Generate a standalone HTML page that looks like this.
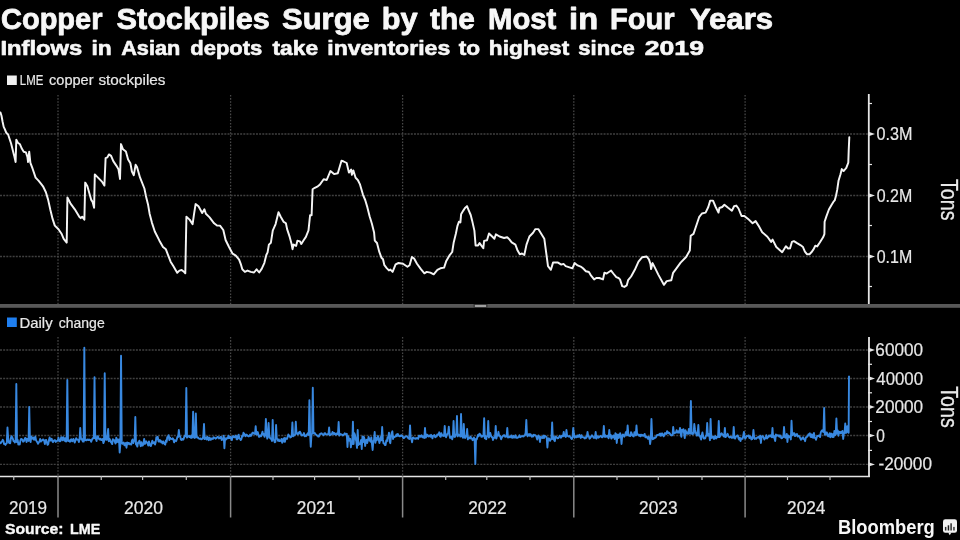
<!DOCTYPE html>
<html><head><meta charset="utf-8"><style>
html,body{margin:0;padding:0;background:#000;}
body{width:960px;height:540px;overflow:hidden;position:relative;font-family:"Liberation Sans",sans-serif;}
svg{position:absolute;left:0;top:0;will-change:transform;}
text{font-family:"Liberation Sans",sans-serif;}
</style></head><body>
<svg width="960" height="540" viewBox="0 0 960 540">
<rect width="960" height="540" fill="#000"/>
<line x1="0" y1="134" x2="868" y2="134" stroke="#404040" stroke-width="1.3" stroke-dasharray="2 1.16"/>
<line x1="0" y1="195.5" x2="868" y2="195.5" stroke="#404040" stroke-width="1.3" stroke-dasharray="2 1.16"/>
<line x1="0" y1="256.5" x2="868" y2="256.5" stroke="#404040" stroke-width="1.3" stroke-dasharray="2 1.16"/>
<line x1="58" y1="95" x2="58" y2="304" stroke="#484848" stroke-width="1.25" stroke-dasharray="1.55 1.55"/>
<line x1="230.6" y1="95" x2="230.6" y2="304" stroke="#484848" stroke-width="1.25" stroke-dasharray="1.55 1.55"/>
<line x1="402.6" y1="95" x2="402.6" y2="304" stroke="#484848" stroke-width="1.25" stroke-dasharray="1.55 1.55"/>
<line x1="573.8" y1="95" x2="573.8" y2="304" stroke="#484848" stroke-width="1.25" stroke-dasharray="1.55 1.55"/>
<line x1="745.1" y1="95" x2="745.1" y2="304" stroke="#484848" stroke-width="1.25" stroke-dasharray="1.55 1.55"/>
<line x1="0" y1="350" x2="868" y2="350" stroke="#404040" stroke-width="1.3" stroke-dasharray="2 1.16"/>
<line x1="0" y1="378.5" x2="868" y2="378.5" stroke="#404040" stroke-width="1.3" stroke-dasharray="2 1.16"/>
<line x1="0" y1="407" x2="868" y2="407" stroke="#404040" stroke-width="1.3" stroke-dasharray="2 1.16"/>
<line x1="0" y1="435.5" x2="868" y2="435.5" stroke="#404040" stroke-width="1.3" stroke-dasharray="2 1.16"/>
<line x1="0" y1="464.4" x2="868" y2="464.4" stroke="#404040" stroke-width="1.3" stroke-dasharray="2 1.16"/>
<line x1="58" y1="337" x2="58" y2="476" stroke="#484848" stroke-width="1.25" stroke-dasharray="1.55 1.55"/>
<line x1="230.6" y1="337" x2="230.6" y2="476" stroke="#484848" stroke-width="1.25" stroke-dasharray="1.55 1.55"/>
<line x1="402.6" y1="337" x2="402.6" y2="476" stroke="#484848" stroke-width="1.25" stroke-dasharray="1.55 1.55"/>
<line x1="573.8" y1="337" x2="573.8" y2="476" stroke="#484848" stroke-width="1.25" stroke-dasharray="1.55 1.55"/>
<line x1="745.1" y1="337" x2="745.1" y2="476" stroke="#484848" stroke-width="1.25" stroke-dasharray="1.55 1.55"/>
<rect x="0" y="304" width="960" height="3.8" fill="#585858"/>
<rect x="473.6" y="304" width="13.8" height="3.8" fill="#303030"/>
<rect x="474.8" y="304.9" width="11.4" height="2.1" fill="#a0a0a0"/>
<line x1="868.8" y1="94" x2="868.8" y2="304" stroke="#e6e6e6" stroke-width="1.8"/>
<path d="M868.5 131.8 L875 134 L868.5 136.2 Z" fill="#e6e6e6"/>
<path d="M868.5 193.3 L875 195.5 L868.5 197.7 Z" fill="#e6e6e6"/>
<path d="M868.5 254.3 L875 256.5 L868.5 258.7 Z" fill="#e6e6e6"/>
<line x1="868" y1="103.5" x2="872" y2="103.5" stroke="#e6e6e6" stroke-width="1.2"/>
<line x1="868" y1="164.5" x2="872" y2="164.5" stroke="#e6e6e6" stroke-width="1.2"/>
<line x1="868" y1="225.5" x2="872" y2="225.5" stroke="#e6e6e6" stroke-width="1.2"/>
<line x1="868" y1="286.5" x2="872" y2="286.5" stroke="#e6e6e6" stroke-width="1.2"/>
<line x1="869" y1="337" x2="869" y2="477" stroke="#e6e6e6" stroke-width="1.8"/>
<line x1="0" y1="476.5" x2="869.9" y2="476.5" stroke="#e6e6e6" stroke-width="1.6"/>
<path d="M868.5 347.8 L875 350 L868.5 352.2 Z" fill="#e6e6e6"/>
<path d="M868.5 376.3 L875 378.5 L868.5 380.7 Z" fill="#e6e6e6"/>
<path d="M868.5 404.8 L875 407 L868.5 409.2 Z" fill="#e6e6e6"/>
<path d="M868.5 433.40000000000003 L875 435.6 L868.5 437.8 Z" fill="#e6e6e6"/>
<path d="M868.5 462.2 L875 464.4 L868.5 466.59999999999997 Z" fill="#e6e6e6"/>
<line x1="868" y1="364.3" x2="872" y2="364.3" stroke="#e6e6e6" stroke-width="1.2"/>
<line x1="868" y1="392.8" x2="872" y2="392.8" stroke="#e6e6e6" stroke-width="1.2"/>
<line x1="868" y1="421.5" x2="872" y2="421.5" stroke="#e6e6e6" stroke-width="1.2"/>
<line x1="868" y1="450.4" x2="872" y2="450.4" stroke="#e6e6e6" stroke-width="1.2"/>
<line x1="58" y1="476" x2="58" y2="517.5" stroke="#8a8a8a" stroke-width="1.5"/>
<line x1="230.6" y1="476" x2="230.6" y2="517.5" stroke="#8a8a8a" stroke-width="1.5"/>
<line x1="402.6" y1="476" x2="402.6" y2="517.5" stroke="#8a8a8a" stroke-width="1.5"/>
<line x1="573.8" y1="476" x2="573.8" y2="517.5" stroke="#8a8a8a" stroke-width="1.5"/>
<line x1="745.1" y1="476" x2="745.1" y2="517.5" stroke="#8a8a8a" stroke-width="1.5"/>
<line x1="13.75" y1="476" x2="13.75" y2="480" stroke="#bdbdbd" stroke-width="1.2"/>
<line x1="101.25" y1="476" x2="101.25" y2="480" stroke="#bdbdbd" stroke-width="1.2"/>
<line x1="142.6" y1="476" x2="142.6" y2="480" stroke="#bdbdbd" stroke-width="1.2"/>
<line x1="186.3" y1="476" x2="186.3" y2="480" stroke="#bdbdbd" stroke-width="1.2"/>
<line x1="273" y1="476" x2="273" y2="480" stroke="#bdbdbd" stroke-width="1.2"/>
<line x1="314.6" y1="476" x2="314.6" y2="480" stroke="#bdbdbd" stroke-width="1.2"/>
<line x1="359.2" y1="476" x2="359.2" y2="480" stroke="#bdbdbd" stroke-width="1.2"/>
<line x1="445.7" y1="476" x2="445.7" y2="480" stroke="#bdbdbd" stroke-width="1.2"/>
<line x1="486.8" y1="476" x2="486.8" y2="480" stroke="#bdbdbd" stroke-width="1.2"/>
<line x1="530" y1="476" x2="530" y2="480" stroke="#bdbdbd" stroke-width="1.2"/>
<line x1="617" y1="476" x2="617" y2="480" stroke="#bdbdbd" stroke-width="1.2"/>
<line x1="658.3" y1="476" x2="658.3" y2="480" stroke="#bdbdbd" stroke-width="1.2"/>
<line x1="702" y1="476" x2="702" y2="480" stroke="#bdbdbd" stroke-width="1.2"/>
<line x1="787.5" y1="476" x2="787.5" y2="480" stroke="#bdbdbd" stroke-width="1.2"/>
<line x1="830" y1="476" x2="830" y2="480" stroke="#bdbdbd" stroke-width="1.2"/>
<polyline points="0,441.74 0.68,443.18 1.36,442.04 2.04,441.4 2.72,439.77 3.4,440.77 4.08,444.08 4.76,443.67 5.44,444.9 6.12,443.5 6.8,443.32 7.48,427.5 8.16,438.21 8.84,442.46 9.52,443.12 10.2,443.31 10.88,438.16 11.56,436.17 12.24,437.47 12.92,438.9 13.6,441.24 14.28,441.18 14.96,442.51 15.64,440.1 16.32,384 17,442.16 17.68,439.83 18.36,444.59 19.04,443.46 19.72,444.5 20.4,440.61 21.08,438.95 21.76,439.24 22.44,439.83 23.12,441.65 23.8,441.38 24.48,439.7 25.16,437.96 25.84,438.28 26.52,442.11 27.2,439.03 27.88,440.17 28.56,440.9 29.24,407 29.92,438.94 30.6,442.13 31.28,436.39 31.96,437.81 32.64,438.7 33.32,437.55 34,439.72 34.68,439.32 35.36,436.58 36.04,440.25 36.72,441.34 37.4,442.36 38.08,443.73 38.76,442.38 39.44,441.62 40.12,439.03 40.8,441.61 41.48,440.56 42.16,440.62 42.84,439.48 43.52,439.75 44.2,440.71 44.88,444.02 45.56,440.22 46.24,439.98 46.92,442.57 47.6,444.87 48.28,444.16 48.96,440.07 49.64,437.51 50.32,440.6 51,439.86 51.68,438.82 52.36,441.3 53.04,442.13 53.72,440.82 54.4,440.27 55.08,440.17 55.76,441.97 56.44,441.19 57.12,440.78 57.8,440.7 58.48,437.6 59.16,440.7 59.84,441.32 60.52,440.93 61.2,437.16 61.88,437.81 62.56,440.22 63.24,437.2 63.92,438.54 64.6,440.78 65.28,438.18 65.96,441.56 66.64,441.21 67.32,380 68,440.4 68.68,441 69.36,440.45 70.04,441.78 70.72,439.62 71.4,439.24 72.08,441.26 72.76,440.5 73.44,438.92 74.12,441.06 74.8,442.58 75.48,440.34 76.16,438.21 76.84,439.3 77.52,439.68 78.2,439.61 78.88,442.09 79.56,439.42 80.24,428 80.92,438.88 81.6,438.5 82.28,440.35 82.96,441.62 83.64,441.62 84.32,347.7 85,440.21 85.68,439.95 86.36,440.38 87.04,439.44 87.72,439.67 88.4,440.08 89.08,439.4 89.76,440.1 90.44,440.02 91.12,441.78 91.8,440.17 92.48,438.6 93.16,438.07 93.84,438.27 94.52,377.3 95.2,438.29 95.88,438.9 96.56,441.05 97.24,436.2 97.92,436.38 98.6,438.34 99.28,439.32 99.96,439.53 100.64,438.72 101.32,440.07 102,440.08 102.68,438.94 103.36,443.12 104.04,441.5 104.72,373.3 105.4,439.66 106.08,439.55 106.76,439.84 107.44,435.52 108.12,429 108.8,441.26 109.48,438.81 110.16,439.9 110.84,442.08 111.52,442.75 112.2,444.12 112.88,439.22 113.56,439.87 114.24,440.18 114.92,442 115.6,443.5 116.28,437.64 116.96,442.09 117.64,439.39 118.32,442.14 119,439.45 119.68,452.5 120.36,443.91 121.04,355.7 121.72,442.72 122.4,443.86 123.08,443.17 123.76,442.56 124.44,445.22 125.12,445.35 125.8,443.06 126.48,447.72 127.16,442.42 127.84,444.31 128.52,442.87 129.2,443.12 129.88,444.31 130.56,443.87 131.24,444.53 131.92,440.71 132.6,439.41 133.28,443.04 133.96,441.32 134.64,440.61 135.32,417 136,444.36 136.68,445.02 137.36,446.63 138.04,442.46 138.72,442.8 139.4,440.65 140.08,443.58 140.76,446.18 141.44,442.22 142.12,445.57 142.8,445.6 143.48,443.3 144.16,438.96 144.84,443.99 145.52,442.79 146.2,441.34 146.88,442.76 147.56,443.24 148.24,445.49 148.92,441.34 149.6,444.05 150.28,445.64 150.96,446.08 151.64,443 152.32,440.77 153,443.38 153.68,442.48 154.36,442.14 155.04,444.5 155.72,441.99 156.4,437.1 157.08,439.06 157.76,436.84 158.44,441.23 159.12,441.73 159.8,440.05 160.48,440.58 161.16,442.34 161.84,441.43 162.52,443.45 163.2,441.44 163.88,442.77 164.56,444.03 165.24,444.62 165.92,440.47 166.6,441.87 167.28,437.16 167.96,436.95 168.64,435.21 169.32,440.12 170,437.56 170.68,438.84 171.36,438.91 172.04,439.17 172.72,438.19 173.4,439.27 174.08,442.36 174.76,440.27 175.44,440.34 176.12,441.13 176.8,439.25 177.48,436.69 178.16,436.97 178.84,430 179.52,436.08 180.2,436.56 180.88,439.42 181.56,440 182.24,438.91 182.92,439.77 183.6,439.05 184.28,436.76 184.96,435.44 185.64,436.36 186.32,388 187,437.64 187.68,436.78 188.36,436.67 189.04,435.69 189.72,437.13 190.4,436.34 191.08,437.9 191.76,435.32 192.44,437.46 193.12,411.8 193.8,435.68 194.48,437.91 195.16,437.66 195.84,413.5 196.52,436.25 197.2,437.59 197.88,437.31 198.56,438.41 199.24,438.75 199.92,438.78 200.6,438.46 201.28,439.33 201.96,438.98 202.64,438.65 203.32,436.07 204,424 204.68,439.17 205.36,437.99 206.04,437.41 206.72,439.55 207.4,436.7 208.08,437.87 208.76,440.19 209.44,437.73 210.12,438.45 210.8,439.87 211.48,438.41 212.16,438.56 212.84,438.95 213.52,437.32 214.2,437.54 214.88,438 215.56,438.67 216.24,438.07 216.92,437.7 217.6,436.78 218.28,437.09 218.96,438.42 219.64,438.12 220.32,437.08 221,436.73 221.68,440.02 222.36,439.69 223.04,439.08 223.72,435.72 224.4,448.3 225.08,438.17 225.76,439.58 226.44,438.77 227.12,437.93 227.8,438.25 228.48,435.6 229.16,437.96 229.84,437.98 230.52,436.76 231.2,438.71 231.88,439.99 232.56,436.49 233.24,436.11 233.92,437.16 234.6,437.37 235.28,436.65 235.96,435.59 236.64,439.37 237.32,439.24 238,436.06 238.68,434.66 239.36,438.51 240.04,438.83 240.72,440.09 241.4,438.96 242.08,435.92 242.76,436.49 243.44,432.8 244.12,433.6 244.8,434.9 245.48,436.23 246.16,434.54 246.84,434.86 247.52,435.88 248.2,436.02 248.88,436.44 249.56,435.76 250.24,434.48 250.92,435.95 251.6,435.04 252.28,433.01 252.96,432.56 253.64,433.49 254.32,433.52 255,433.96 255.68,426.3 256.36,434.51 257.04,434.2 257.72,432.05 258.4,434.63 259.08,436.86 259.76,436.56 260.44,435.39 261.12,436.3 261.8,434.07 262.48,431.68 263.16,434.62 263.84,433.92 264.52,436.89 265.2,434.68 265.88,419 266.56,433.02 267.24,438.54 267.92,437.02 268.6,423 269.28,435.27 269.96,437.85 270.64,438.82 271.32,438.7 272,441.08 272.68,420 273.36,439.33 274.04,440.07 274.72,442.28 275.4,441.97 276.08,425 276.76,438.58 277.44,439.09 278.12,440.8 278.8,439.38 279.48,441.05 280.16,440.67 280.84,440.91 281.52,438.92 282.2,442.78 282.88,441.74 283.56,438.74 284.24,438.05 284.92,441.92 285.6,438.11 286.28,438.69 286.96,438.92 287.64,437.18 288.32,434.41 289,435.6 289.68,436.15 290.36,437.49 291.04,437.22 291.72,435.67 292.4,422.5 293.08,436.28 293.76,435.64 294.44,435.18 295.12,434.55 295.8,421.7 296.48,433.55 297.16,433.45 297.84,434.34 298.52,432.58 299.2,433.44 299.88,431.63 300.56,432.82 301.24,434.85 301.92,435.53 302.6,434.98 303.28,434.59 303.96,433.08 304.64,436.28 305.32,435.87 306,436.33 306.68,434.41 307.36,434.48 308.04,432.92 308.72,434.9 309.4,400.2 310.08,433.28 310.76,446.7 311.44,435.21 312.12,433.23 312.8,387.7 313.48,432.95 314.16,433.54 314.84,432.99 315.52,434.2 316.2,434.83 316.88,435.43 317.56,435.7 318.24,436.58 318.92,436.56 319.6,434.14 320.28,434.07 320.96,433.51 321.64,433.3 322.32,434.2 323,434.59 323.68,435.21 324.36,433.39 325.04,433.1 325.72,434.18 326.4,434.39 327.08,434.35 327.76,434.58 328.44,433.98 329.12,427.5 329.8,435.28 330.48,434.88 331.16,434.17 331.84,434.41 332.52,432.01 333.2,432.87 333.88,434.16 334.56,433.11 335.24,434.4 335.92,434.8 336.6,433.46 337.28,434.09 337.96,434.24 338.64,422 339.32,435.49 340,435 340.68,434.04 341.36,434.39 342.04,434.59 342.72,435.44 343.4,435.31 344.08,434.27 344.76,433.3 345.44,434.15 346.12,434.31 346.8,433.85 347.48,447 348.16,436.17 348.84,438.23 349.52,440.82 350.2,438.95 350.88,447.37 351.56,441.29 352.24,443.97 352.92,421.7 353.6,444.06 354.28,433.15 354.96,434.8 355.64,438.7 356.32,441.23 357,447.86 357.68,430 358.36,445.05 359.04,443.89 359.72,444.05 360.4,442.64 361.08,439.93 361.76,449 362.44,436.36 363.12,442.04 363.8,436.84 364.48,439.13 365.16,445.97 365.84,440.74 366.52,439.68 367.2,442.97 367.88,440.44 368.56,436.86 369.24,439.01 369.92,440.76 370.6,441.76 371.28,437.38 371.96,443.82 372.64,450 373.32,441.22 374,440.4 374.68,432 375.36,442.78 376.04,437.84 376.72,440.39 377.4,437.68 378.08,436.05 378.76,439.83 379.44,443.01 380.12,439.97 380.8,436.84 381.48,440.28 382.16,427 382.84,439.4 383.52,443.25 384.2,443.38 384.88,445 385.56,445.1 386.24,440.55 386.92,441.29 387.6,437.24 388.28,437.6 388.96,432.64 389.64,441.38 390.32,443.16 391,436.14 391.68,432.82 392.36,431.32 393.04,438.95 393.72,436.72 394.4,436.96 395.08,436.33 395.76,436.47 396.44,434.5 397.12,435.93 397.8,433.93 398.48,435.36 399.16,436.15 399.84,436.35 400.52,435.87 401.2,435.18 401.88,436.1 402.56,435.88 403.24,438.04 403.92,438.1 404.6,437.29 405.28,436.73 405.96,436.38 406.64,436.1 407.32,436.75 408,437.82 408.68,438.57 409.36,439.02 410.04,425.4 410.72,438.63 411.4,438.72 412.08,442.22 412.76,437.6 413.44,437.55 414.12,438.31 414.8,438.49 415.48,438.8 416.16,438.03 416.84,438.45 417.52,438.13 418.2,438.87 418.88,435.64 419.56,435.72 420.24,436.82 420.92,435.79 421.6,435.34 422.28,437.31 422.96,436.24 423.64,437.5 424.32,438.02 425,428 425.68,437.59 426.36,436.7 427.04,434.54 427.72,435.59 428.4,436.56 429.08,435.47 429.76,435.61 430.44,436.77 431.12,434.83 431.8,436.22 432.48,438.37 433.16,435.63 433.84,435.59 434.52,435.08 435.2,437.27 435.88,436.21 436.56,436.61 437.24,434.42 437.92,434.7 438.6,434.83 439.28,432.32 439.96,436.18 440.64,436.77 441.32,433.13 442,435.53 442.68,435.12 443.36,435.85 444.04,436.01 444.72,426 445.4,434.36 446.08,437.22 446.76,435.23 447.44,433.91 448.12,432.98 448.8,426.7 449.48,435.16 450.16,437.97 450.84,437.13 451.52,436.6 452.2,439.35 452.88,436.31 453.56,421 454.24,436.4 454.92,436.93 455.6,434.86 456.28,433.93 456.96,416 457.64,436.38 458.32,434.35 459,435.29 459.68,435.14 460.36,436.59 461.04,414 461.72,436.24 462.4,435.87 463.08,437.82 463.76,424 464.44,436.91 465.12,437.97 465.8,436.02 466.48,436.59 467.16,429 467.84,439.37 468.52,437.52 469.2,437.67 469.88,438.43 470.56,436.54 471.24,438.41 471.92,438.36 472.6,440.2 473.28,438.96 473.96,437.6 474.64,440.39 475.32,464 476,438.99 476.68,439.46 477.36,437.04 478.04,434.9 478.72,436.2 479.4,433.7 480.08,434.13 480.76,435.24 481.44,436.87 482.12,436.01 482.8,436.39 483.48,435.18 484.16,418.3 484.84,438.32 485.52,435.85 486.2,439.19 486.88,436.25 487.56,436.13 488.24,421 488.92,437.52 489.6,434.94 490.28,432.93 490.96,435.8 491.64,437.06 492.32,437.27 493,439.94 493.68,437.75 494.36,437.06 495.04,437.68 495.72,426 496.4,438.66 497.08,435.56 497.76,435.57 498.44,431.82 499.12,435.74 499.8,435.67 500.48,437.22 501.16,439.23 501.84,437.36 502.52,436.43 503.2,435.83 503.88,435.24 504.56,435.3 505.24,436.79 505.92,436.62 506.6,436.61 507.28,428 507.96,437.48 508.64,437.41 509.32,436.7 510,437.34 510.68,436.68 511.36,435.39 512.04,437.75 512.72,437.51 513.4,435.94 514.08,437.54 514.76,437.34 515.44,435.31 516.12,437.87 516.8,437.47 517.48,437.89 518.16,437.35 518.84,436.83 519.52,435.29 520.2,437.17 520.88,436.72 521.56,436.11 522.24,436.41 522.92,436.11 523.6,436.5 524.28,435.39 524.96,435.23 525.64,432.7 526.32,420 527,435 527.68,436.16 528.36,434.45 529.04,434 529.72,435.77 530.4,434.18 531.08,435.1 531.76,436.73 532.44,435.39 533.12,436.53 533.8,434.61 534.48,435.22 535.16,435.2 535.84,435.56 536.52,437.14 537.2,439.48 537.88,436.4 538.56,435.56 539.24,436.82 539.92,442 540.6,436.97 541.28,437.8 541.96,437.04 542.64,438.02 543.32,435.58 544,438.08 544.68,435.83 545.36,436.35 546.04,436.85 546.72,437.37 547.4,447.5 548.08,439.21 548.76,438.25 549.44,439.18 550.12,440.84 550.8,439.16 551.48,438.99 552.16,422.5 552.84,438.97 553.52,436.63 554.2,440.35 554.88,441.15 555.56,436.44 556.24,437.01 556.92,437.63 557.6,438.34 558.28,438.18 558.96,437.07 559.64,435.85 560.32,436.55 561,437.73 561.68,436.05 562.36,435.52 563.04,436.33 563.72,432 564.4,435.8 565.08,436.01 565.76,436.98 566.44,430 567.12,435.67 567.8,436 568.48,436.47 569.16,436 569.84,436.53 570.52,437.48 571.2,438.28 571.88,439.1 572.56,436.79 573.24,428 573.92,434.01 574.6,437.84 575.28,436.39 575.96,436.62 576.64,437.3 577.32,435.51 578,436.85 578.68,436.79 579.36,434.8 580.04,436.42 580.72,437.98 581.4,435.15 582.08,437.12 582.76,437.14 583.44,437.45 584.12,437.52 584.8,438.52 585.48,437.15 586.16,437.91 586.84,436.72 587.52,432 588.2,436.15 588.88,436.45 589.56,438.68 590.24,437.98 590.92,437.03 591.6,435.54 592.28,435.43 592.96,436.55 593.64,437.82 594.32,437.66 595,437.73 595.68,432 596.36,438.51 597.04,436.93 597.72,436.18 598.4,437.66 599.08,437.18 599.76,436.59 600.44,435.99 601.12,436.12 601.8,437.22 602.48,437.24 603.16,435.26 603.84,426 604.52,436.69 605.2,435.2 605.88,436.9 606.56,436.12 607.24,435.73 607.92,437.03 608.6,438.13 609.28,430 609.96,436.51 610.64,434.97 611.32,438.63 612,436.14 612.68,437.5 613.36,435.46 614.04,436.68 614.72,439 615.4,433.28 616.08,434.11 616.76,443 617.44,435.35 618.12,434.4 618.8,437.98 619.48,436.3 620.16,433.23 620.84,435.66 621.52,444 622.2,435.88 622.88,434.44 623.56,434.94 624.24,436.7 624.92,435.63 625.6,433.06 626.28,431.75 626.96,435.43 627.64,425.5 628.32,434.09 629,435.76 629.68,435.82 630.36,436.05 631.04,432.15 631.72,433.47 632.4,435.55 633.08,436.04 633.76,436.39 634.44,432.14 635.12,434.09 635.8,435.19 636.48,425.5 637.16,434.77 637.84,434.38 638.52,434.7 639.2,435.86 639.88,434.63 640.56,436.34 641.24,434.71 641.92,435.6 642.6,435.05 643.28,435.88 643.96,435.22 644.64,433.93 645.32,437.17 646,437.42 646.68,436.49 647.36,437.34 648.04,438.88 648.72,436.84 649.4,437.47 650.08,444 650.76,439.36 651.44,419 652.12,435.62 652.8,439.21 653.48,438.96 654.16,438.24 654.84,437.4 655.52,437.72 656.2,436.66 656.88,435.24 657.56,434.99 658.24,434.94 658.92,434.73 659.6,433.69 660.28,435.78 660.96,433.5 661.64,435.41 662.32,433.46 663,434.6 663.68,436.33 664.36,435.05 665.04,433.08 665.72,433.59 666.4,433.9 667.08,431.17 667.76,431.87 668.44,433.27 669.12,432.77 669.8,433.43 670.48,434.67 671.16,435.15 671.84,435.54 672.52,435.16 673.2,427 673.88,433.46 674.56,432.97 675.24,432.71 675.92,432.82 676.6,430.23 677.28,431.65 677.96,432.65 678.64,431.35 679.32,432.51 680,428 680.68,433.11 681.36,436.82 682.04,429.74 682.72,431.53 683.4,429.19 684.08,433.47 684.76,438.07 685.44,430.11 686.12,432.18 686.8,433.64 687.48,432.58 688.16,433.81 688.84,428.86 689.52,433.07 690.2,433.66 690.88,401 691.56,432.14 692.24,434.17 692.92,432.85 693.6,433.82 694.28,424 694.96,429.49 695.64,432.48 696.32,434.05 697,435.68 697.68,433.43 698.36,425 699.04,435.78 699.72,435.58 700.4,437.5 701.08,439.52 701.76,435.4 702.44,432.38 703.12,436.08 703.8,438.55 704.48,438.5 705.16,438.39 705.84,436.16 706.52,435.34 707.2,423 707.88,435.78 708.56,433.85 709.24,434.56 709.92,440.18 710.6,419 711.28,437.96 711.96,436.84 712.64,437.72 713.32,436.57 714,439.02 714.68,437.86 715.36,436.04 716.04,438.59 716.72,436.89 717.4,437.3 718.08,437.08 718.76,421 719.44,437.14 720.12,436.05 720.8,434.29 721.48,433.23 722.16,434.01 722.84,434.9 723.52,436.11 724.2,436.62 724.88,428 725.56,437.16 726.24,435.96 726.92,435.64 727.6,433.81 728.28,435.55 728.96,436.95 729.64,437.5 730.32,436.9 731,436.62 731.68,437.88 732.36,437.2 733.04,437.84 733.72,427 734.4,437.44 735.08,438.61 735.76,436.74 736.44,436.34 737.12,435.65 737.8,435.43 738.48,438.22 739.16,439.44 739.84,437.75 740.52,441 741.2,438.59 741.88,438.41 742.56,438.83 743.24,435.97 743.92,432 744.6,436.98 745.28,438.61 745.96,437.56 746.64,436.02 747.32,436.09 748,435.75 748.68,435.39 749.36,438.13 750.04,436.5 750.72,436.72 751.4,439.41 752.08,439.16 752.76,438.03 753.44,430 754.12,437.19 754.8,438.91 755.48,438.3 756.16,438.86 756.84,437.64 757.52,437.72 758.2,436.88 758.88,437.35 759.56,438.58 760.24,435.68 760.92,443 761.6,436.93 762.28,436.15 762.96,436.2 763.64,437.55 764.32,439.5 765,438.51 765.68,437.8 766.36,435.26 767.04,438.61 767.72,437.53 768.4,437.01 769.08,435.51 769.76,436.28 770.44,435.28 771.12,436.36 771.8,437.21 772.48,428 773.16,437.2 773.84,435.9 774.52,438.23 775.2,441 775.88,434.48 776.56,435.76 777.24,435.51 777.92,435.12 778.6,435.78 779.28,436.8 779.96,435.36 780.64,436.13 781.32,438.3 782,438.16 782.68,437.09 783.36,437.06 784.04,427 784.72,436.72 785.4,437.67 786.08,436.99 786.76,433.94 787.44,442 788.12,435.36 788.8,437.09 789.48,436.16 790.16,436.76 790.84,439.44 791.52,420.8 792.2,435.31 792.88,434.56 793.56,433.1 794.24,433.21 794.92,435.99 795.6,435.74 796.28,434.15 796.96,434.07 797.64,436.6 798.32,435.78 799,436 799.68,436.92 800.36,438.5 801.04,439.76 801.72,439.09 802.4,437.78 803.08,437.37 803.76,439.19 804.44,439.38 805.12,441.2 805.8,437.46 806.48,437.24 807.16,436.8 807.84,435.83 808.52,434.23 809.2,434.7 809.88,433.29 810.56,436.87 811.24,437.07 811.92,434.32 812.6,437.48 813.28,437.76 813.96,433.06 814.64,437.77 815.32,437.63 816,439.83 816.68,437.5 817.36,435.85 818.04,436.08 818.72,435.68 819.4,435.42 820.08,437.07 820.76,432.36 821.44,431.09 822.12,430.21 822.8,431.61 823.48,431.95 824.16,408 824.84,434.73 825.52,434.35 826.2,432.51 826.88,432.35 827.56,435.6 828.24,436.27 828.92,434.86 829.6,433.26 830.28,437.39 830.96,433.35 831.64,435.09 832.32,437.01 833,433.91 833.68,437 834.36,431.03 835.04,435.16 835.72,434.35 836.4,418.5 837.08,433.43 837.76,430.48 838.44,435.7 839.12,431.77 839.8,431.85 840.48,433.18 841.16,431.74 841.84,433 842.52,430.88 843.2,439 843.88,432.86 844.56,433.11 845.24,423.56 845.92,432.85 846.6,432.4 847.28,426.16 847.96,430.17 848.64,432.81 849,375.7" fill="none" stroke="#3888e0" stroke-width="1.9" stroke-linejoin="round"/>
<polyline points="0.4,112.4 1.5,115.7 2.6,121.7 3.7,126.9 4.8,129.1 6.3,132.8 8.1,134.5 11.1,143.5 14.1,155.4 15.6,162 16.3,139.8 17.8,142.8 20,144.3 21.5,148 23.7,151.7 25.9,152.4 27.4,156.9 28.1,162 29.2,151.7 30.4,162.8 32.6,168.7 35.6,177.6 38.5,180.6 41.5,184.3 43,186.3 45.9,192.2 48.1,199.6 50.4,210 52.6,218.9 54.8,225.6 58.5,229.3 61.5,233.7 63.7,238.9 66.7,242.6 67.4,197.4 70.4,203.3 74.8,209.3 79.3,216.7 80.7,218.1 82.2,216.7 84.4,219.6 85.2,182.6 87.4,186.3 91.1,199.6 92.6,201.9 94.1,207.8 94.8,174.4 98.5,178.1 102.2,181.9 104.4,185.6 105.6,158.1 107.4,157.4 108.9,154.4 111.1,155.9 113.3,161.1 116.3,165.6 118.5,169.3 120,178.9 121,144.1 123,149.3 125.9,151.5 128.1,159.6 130.4,163.3 131.9,171.5 133.8,175.2 135.6,164.8 137,167 140,177.4 144.4,188.5 145.9,195.9 148.1,204.8 149.6,213.7 151.9,222.6 154.8,231.5 159.3,240.4 163,247 165.9,249.3 167.8,254.4 170.6,261.7 173.3,266.1 175.6,270 177.2,272.8 179.4,270.6 181.7,270 183.9,271.7 185.3,273.3 186.4,216.7 189.6,219.6 192.6,224.1 194.1,213.7 195.6,204.1 198.5,206.3 202.2,213 204.4,209.3 205.9,213.7 209.6,217.4 214.1,223.3 217,225.6 220,225.6 223.3,230 225.6,240 228.9,246.7 232.6,253.7 235.8,255.7 239.1,259.6 241,264.7 242.3,269.3 244.9,271.9 247.5,270.6 250.8,271.9 254,272.5 256.6,269.3 259.2,272.5 261.8,268.6 264.4,262.8 266.3,255 267.6,252.4 268.9,244.6 270.9,242.7 272.8,230.4 273.3,229.3 275.6,224.1 278.5,212.2 280.7,216.7 283.7,221.9 285.9,223.3 287.1,229.1 289.7,236.9 291.6,244 292.5,249.2 293.6,244.6 296.1,245.9 297.4,240.8 300,241.4 301.3,244 303.3,240.8 305.9,236.9 308.5,230.4 310.1,215.2 311.6,215.2 312.6,189.3 314.8,187.8 317.8,186.3 320,184.4 323.7,179.3 326.7,180 330.4,171.1 334.1,174.1 337.8,173.3 341.5,160.7 343.7,161.5 346.7,163 348.9,172.6 351.1,169.6 351.9,174.8 353.3,170.4 355.6,177.8 357.8,180 360,184.4 363,194.8 365.2,200 367.4,207.4 369.6,216.3 371.9,223.7 374.1,232.6 374.8,240.7 377,243 379.3,251.9 381.5,257.8 383,259.3 384.4,265.2 386.7,268.1 388.9,270.4 390.4,269.6 392.6,271.9 395.6,264.4 398.5,263 403,263.7 407.4,266.7 409.6,265.2 411.9,257 414.1,258.5 417,263.7 420.7,268.9 424.4,273.3 426.7,271.9 430.4,272.6 433.7,274.3 437.4,269.8 440.4,268.3 444.1,267.6 446.3,260.9 449.3,255.7 452.2,252 453.7,242.4 455.9,233.5 457.4,226.1 458.9,221.7 460.4,222.4 461.1,214.3 463.3,210.6 464.8,208.3 467,206.1 468.5,209.8 470.7,215 472.2,220.9 474.4,230.6 475.6,245.4 478.1,245.4 479.6,243.1 483.3,248.3 484.1,240.9 487,240.2 489,233.5 492.2,236.5 494.4,238.7 495.9,234.3 499.6,236.5 504.1,238 507.2,237.2 509.4,239.4 511.7,242.4 515.4,244.6 517.6,250.6 519.8,254.3 522,253.5 524.3,255 526.5,244.6 529.4,236.5 533.1,232.8 535.4,229.1 538.3,229.1 540.6,232.8 544.3,238.7 545.7,249.1 548,266.1 550.9,269.8 553.1,262.4 557.6,262.4 561.3,264.6 563.5,263.9 565.7,266.1 570.2,267.6 572.4,268.3 574.6,263.1 577.6,265.4 581.3,266.9 583,268.3 585.9,271.3 588.9,272 591.1,275.7 594.1,279.4 596.3,278 599.3,278 603,279.4 604.4,272.8 606.7,273.5 608.9,272 611.1,270.6 613.3,273.5 616.3,277.2 618.5,278 620,279.4 622.2,286.1 624.4,286.9 626.7,285.4 628.1,280.2 631.1,276.5 634.8,269.8 638.5,261.7 642.2,257.2 646.7,256.5 648.9,259.4 650.4,263.9 651.1,269.1 652.6,263.1 655.6,269.1 658.3,274.6 663.9,284.8 666.7,281.1 671.3,280.2 673.1,272.8 675.9,269.1 680.6,262.6 686.1,257 689.8,250.6 690.7,235.7 693.5,233.9 695.4,228.3 699.1,217.2 701.9,213.5 705.6,212.6 708.3,207 710.2,200.6 713,200.6 715.7,207 718.5,212.6 719.4,208 722.2,207 724.4,204.8 728.1,207.8 731.9,210.7 734.1,206.3 736.3,205.6 738.5,208.5 741.5,215.9 744.4,215.9 748.1,218.9 752.6,223.3 755.6,221.1 758.5,225.6 762.2,232.2 767.4,236.7 771.1,241.9 772.6,239.6 776.3,247 782.2,252.2 785.9,246.3 788.1,248.5 790,248.4 791.9,241.9 793.9,241.2 797.1,243.2 800.4,245.1 803,247.1 804.9,251.6 806.9,254.2 809.5,254.2 811.4,252.3 813.3,249.7 815.3,245.8 817.2,246.4 819.8,242.5 823.1,237.3 824.4,234.1 824.6,221.8 826.3,216.6 828.9,209.5 831.5,204.9 833.5,201.7 834.7,200.4 836,195.8 837.2,189.9 838.5,180.8 840.5,174.3 841.8,169.1 843.7,171 846.3,167.8 848.3,162.6 848.7,150.9 849.3,137.3" fill="none" stroke="#f4f4f4" stroke-width="1.95" stroke-linejoin="round" stroke-linecap="round"/>
<rect x="7" y="75.5" width="9.8" height="9.5" fill="#f0f0f0"/>
<rect x="7" y="317.5" width="9.8" height="9.5" fill="#1f7ff0"/>
<g transform="translate(943,519.3)"><rect x="0" y="0" width="14" height="13.4" rx="2.3" fill="#f2f2f2"/><path d="M5.2 13.2 L6.8 16 L8.4 13.2 Z" fill="#f2f2f2"/><rect x="1.9" y="7.6" width="1.5" height="3.6" fill="#2a2a2a"/><rect x="4.7" y="6" width="1.5" height="5.2" fill="#1a1a1a"/><rect x="7.3" y="4" width="1.6" height="7.2" fill="#3a3a3a"/><rect x="10.2" y="7.6" width="1.5" height="3.6" fill="#3a3a3a"/></g>
<text x="1.03" y="29.3" font-size="30" font-weight="bold" textLength="101.47" lengthAdjust="spacingAndGlyphs" fill="#f7f7f7" stroke="#f7f7f7" stroke-width="0.8" stroke-linejoin="round">Copper</text>
<text x="116.48" y="29.3" font-size="30" font-weight="bold" textLength="153.36" lengthAdjust="spacingAndGlyphs" fill="#f7f7f7" stroke="#f7f7f7" stroke-width="0.8" stroke-linejoin="round">Stockpiles</text>
<text x="281.97" y="29.3" font-size="30" font-weight="bold" textLength="87.85" lengthAdjust="spacingAndGlyphs" fill="#f7f7f7" stroke="#f7f7f7" stroke-width="0.8" stroke-linejoin="round">Surge</text>
<text x="381.7" y="29.3" font-size="30" font-weight="bold" textLength="35.81" lengthAdjust="spacingAndGlyphs" fill="#f7f7f7" stroke="#f7f7f7" stroke-width="0.8" stroke-linejoin="round">by</text>
<text x="430" y="29.3" font-size="30" font-weight="bold" textLength="44.74" lengthAdjust="spacingAndGlyphs" fill="#f7f7f7" stroke="#f7f7f7" stroke-width="0.8" stroke-linejoin="round">the</text>
<text x="488.05" y="29.3" font-size="30" font-weight="bold" textLength="68.2" lengthAdjust="spacingAndGlyphs" fill="#f7f7f7" stroke="#f7f7f7" stroke-width="0.8" stroke-linejoin="round">Most</text>
<text x="569.08" y="29.3" font-size="30" font-weight="bold" textLength="28.99" lengthAdjust="spacingAndGlyphs" fill="#f7f7f7" stroke="#f7f7f7" stroke-width="0.8" stroke-linejoin="round">in</text>
<text x="610.06" y="29.3" font-size="30" font-weight="bold" textLength="64.61" lengthAdjust="spacingAndGlyphs" fill="#f7f7f7" stroke="#f7f7f7" stroke-width="0.8" stroke-linejoin="round">Four</text>
<text x="690" y="29.3" font-size="30" font-weight="bold" textLength="83.14" lengthAdjust="spacingAndGlyphs" fill="#f7f7f7" stroke="#f7f7f7" stroke-width="0.8" stroke-linejoin="round">Years</text>
<text x="0.41" y="54.9" font-size="20" font-weight="bold" textLength="81.85" lengthAdjust="spacingAndGlyphs" fill="#f7f7f7" stroke="#f7f7f7" stroke-width="0.6" stroke-linejoin="round">Inflows</text>
<text x="91.56" y="54.9" font-size="20" font-weight="bold" textLength="20.23" lengthAdjust="spacingAndGlyphs" fill="#f7f7f7" stroke="#f7f7f7" stroke-width="0.6" stroke-linejoin="round">in</text>
<text x="121.2" y="54.9" font-size="20" font-weight="bold" textLength="59.11" lengthAdjust="spacingAndGlyphs" fill="#f7f7f7" stroke="#f7f7f7" stroke-width="0.6" stroke-linejoin="round">Asian</text>
<text x="190.3" y="54.9" font-size="20" font-weight="bold" textLength="72.02" lengthAdjust="spacingAndGlyphs" fill="#f7f7f7" stroke="#f7f7f7" stroke-width="0.6" stroke-linejoin="round">depots</text>
<text x="272.5" y="54.9" font-size="20" font-weight="bold" textLength="45.54" lengthAdjust="spacingAndGlyphs" fill="#f7f7f7" stroke="#f7f7f7" stroke-width="0.6" stroke-linejoin="round">take</text>
<text x="327.25" y="54.9" font-size="20" font-weight="bold" textLength="122.96" lengthAdjust="spacingAndGlyphs" fill="#f7f7f7" stroke="#f7f7f7" stroke-width="0.6" stroke-linejoin="round">inventories</text>
<text x="458.75" y="54.9" font-size="20" font-weight="bold" textLength="21.43" lengthAdjust="spacingAndGlyphs" fill="#f7f7f7" stroke="#f7f7f7" stroke-width="0.6" stroke-linejoin="round">to</text>
<text x="488.87" y="54.9" font-size="20" font-weight="bold" textLength="80.37" lengthAdjust="spacingAndGlyphs" fill="#f7f7f7" stroke="#f7f7f7" stroke-width="0.6" stroke-linejoin="round">highest</text>
<text x="578.3" y="54.9" font-size="20" font-weight="bold" textLength="56.37" lengthAdjust="spacingAndGlyphs" fill="#f7f7f7" stroke="#f7f7f7" stroke-width="0.6" stroke-linejoin="round">since</text>
<text x="644.8" y="54.9" font-size="20" font-weight="bold" textLength="59.16" lengthAdjust="spacingAndGlyphs" fill="#f7f7f7" stroke="#f7f7f7" stroke-width="0.6" stroke-linejoin="round">2019</text>
<text x="19.78" y="85.25" font-size="14" textLength="23.55" lengthAdjust="spacingAndGlyphs" fill="#e8e8e8" stroke="#e8e8e8" stroke-width="0.2">LME</text>
<text x="49.1" y="85.25" font-size="14" textLength="44.46" lengthAdjust="spacingAndGlyphs" fill="#e8e8e8" stroke="#e8e8e8" stroke-width="0.2">copper</text>
<text x="98.4" y="85.25" font-size="14" textLength="67.11" lengthAdjust="spacingAndGlyphs" fill="#e8e8e8" stroke="#e8e8e8" stroke-width="0.2">stockpiles</text>
<text x="19.54" y="327.5" font-size="14" textLength="33.1" lengthAdjust="spacingAndGlyphs" fill="#e8e8e8" stroke="#e8e8e8" stroke-width="0.2">Daily</text>
<text x="58.75" y="327.5" font-size="14" textLength="45.94" lengthAdjust="spacingAndGlyphs" fill="#e8e8e8" stroke="#e8e8e8" stroke-width="0.2">change</text>
<text x="876.5" y="140" font-size="18" textLength="35.93" lengthAdjust="spacingAndGlyphs" fill="#e8e8e8" stroke="#e8e8e8" stroke-width="0.2">0.3M</text>
<text x="876.7" y="201.7" font-size="18" textLength="35.51" lengthAdjust="spacingAndGlyphs" fill="#e8e8e8" stroke="#e8e8e8" stroke-width="0.2">0.2M</text>
<text x="876.7" y="262.5" font-size="18" textLength="35.51" lengthAdjust="spacingAndGlyphs" fill="#e8e8e8" stroke="#e8e8e8" stroke-width="0.2">0.1M</text>
<text x="875.35" y="356" font-size="18" textLength="47.71" lengthAdjust="spacingAndGlyphs" fill="#e8e8e8" stroke="#e8e8e8" stroke-width="0.2">60000</text>
<text x="876.3" y="384.5" font-size="18" textLength="46.76" lengthAdjust="spacingAndGlyphs" fill="#e8e8e8" stroke="#e8e8e8" stroke-width="0.2">40000</text>
<text x="875.35" y="413" font-size="18" textLength="47.71" lengthAdjust="spacingAndGlyphs" fill="#e8e8e8" stroke="#e8e8e8" stroke-width="0.2">20000</text>
<text x="876.3" y="441.5" font-size="18" textLength="8.61" lengthAdjust="spacingAndGlyphs" fill="#e8e8e8" stroke="#e8e8e8" stroke-width="0.2">0</text>
<text x="878.5" y="470" font-size="18" textLength="53.46" lengthAdjust="spacingAndGlyphs" fill="#e8e8e8" stroke="#e8e8e8" stroke-width="0.2">-20000</text>
<text x="9.05" y="513.8" font-size="18" textLength="37.99" lengthAdjust="spacingAndGlyphs" fill="#e8e8e8" stroke="#e8e8e8" stroke-width="0.2">2019</text>
<text x="123.93" y="513.8" font-size="18" textLength="39.02" lengthAdjust="spacingAndGlyphs" fill="#e8e8e8" stroke="#e8e8e8" stroke-width="0.2">2020</text>
<text x="296.84" y="513.8" font-size="18" textLength="38.4" lengthAdjust="spacingAndGlyphs" fill="#e8e8e8" stroke="#e8e8e8" stroke-width="0.2">2021</text>
<text x="468.24" y="513.8" font-size="18" textLength="38.51" lengthAdjust="spacingAndGlyphs" fill="#e8e8e8" stroke="#e8e8e8" stroke-width="0.2">2022</text>
<text x="639.04" y="513.8" font-size="18" textLength="38.51" lengthAdjust="spacingAndGlyphs" fill="#e8e8e8" stroke="#e8e8e8" stroke-width="0.2">2023</text>
<text x="787.04" y="513.8" font-size="18" textLength="38.4" lengthAdjust="spacingAndGlyphs" fill="#e8e8e8" stroke="#e8e8e8" stroke-width="0.2">2024</text>
<text x="5" y="534.4" font-size="14.5" font-weight="bold" textLength="58.58" lengthAdjust="spacingAndGlyphs" fill="#f7f7f7" stroke="#f7f7f7" stroke-width="0.35" stroke-linejoin="round">Source:</text>
<text x="70.01" y="534.4" font-size="14.5" font-weight="bold" textLength="30.2" lengthAdjust="spacingAndGlyphs" fill="#f7f7f7" stroke="#f7f7f7" stroke-width="0.35" stroke-linejoin="round">LME</text>
<text x="837.88" y="534" font-size="20" font-weight="bold" textLength="96.93" lengthAdjust="spacingAndGlyphs" fill="#f7f7f7" stroke="#f7f7f7" stroke-width="0.0" stroke-linejoin="round">Bloomberg</text>
<text transform="translate(940.5,199.8) rotate(90)" x="0" y="0" font-size="23" text-anchor="middle" textLength="41.5" lengthAdjust="spacingAndGlyphs" fill="#e8e8e8" stroke="#e8e8e8" stroke-width="0.3">Tons</text>
<text transform="translate(940.5,407) rotate(90)" x="0" y="0" font-size="23" text-anchor="middle" textLength="41.5" lengthAdjust="spacingAndGlyphs" fill="#e8e8e8" stroke="#e8e8e8" stroke-width="0.3">Tons</text>
</svg>
</body></html>
